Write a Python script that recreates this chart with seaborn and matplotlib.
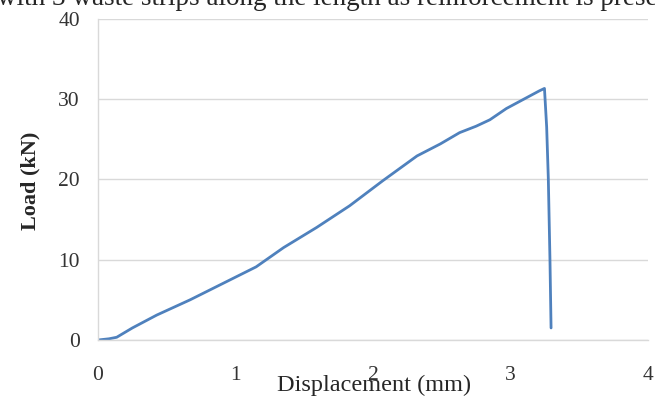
import seaborn as sns
import pandas as pd
import matplotlib.pyplot as plt

# load-displacement curve
disp = [0.0, 0.08, 0.136, 0.25, 0.427, 0.67, 0.91, 1.15, 1.35, 1.59, 1.83,
        2.07, 2.32, 2.49, 2.63, 2.75, 2.85, 2.97, 3.09, 3.21, 3.247,
        3.263, 3.275, 3.287, 3.295]
load = [0.0, 0.15, 0.34, 1.5, 3.1, 5.0, 7.05, 9.1, 11.5, 14.0, 16.7,
        19.8, 22.9, 24.4, 25.8, 26.6, 27.4, 28.8, 29.9, 31.0, 31.3,
        26.5, 20.1, 10.0, 1.5]
x_ticks = [0, 1, 2, 3, 4]
y_ticks = [0, 10, 20, 30, 40]

df = pd.DataFrame({"Displacement (mm)": disp, "Load (kN)": load})

sns.set_style("white")
plt.rcParams['font.family'] = ['Liberation Serif', 'DejaVu Serif']

fig = plt.figure(figsize=(6.55, 3.99), dpi=100)
ax = fig.add_axes([98 / 655, 59 / 399, 550 / 655, 321.5 / 399])

sns.lineplot(data=df, x="Displacement (mm)", y="Load (kN)", sort=False,
             estimator=None, color="#4F81BD", linewidth=2, ax=ax)

ax.set_xlim(0, 4)
ax.set_ylim(0, 40)
ax.set_xticks(x_ticks)
ax.set_yticks(y_ticks)
ax.grid(axis="y", color="#D9D9D9", linewidth=1)
ax.set_axisbelow(True)
for s in ["top", "right"]:
    ax.spines[s].set_visible(False)
for s in ["left", "bottom"]:
    ax.spines[s].set_color("#D9D9D9")
    ax.spines[s].set_linewidth(1)
ax.tick_params(axis="both", length=0, labelsize=15.5, labelcolor="#333333")
ax.tick_params(axis="x", pad=19)
ax.tick_params(axis="y", pad=13)

ax.set_xlabel("")
ax.set_ylabel("")
fig.text(30 / 655, 0.5 * (1 - 132 / 399) + 0.5 * (1 - 230 / 399), "Load (kN)",
         fontsize=16, fontweight="bold", rotation=90, ha="center", va="center")
fig.text(374 / 655, 1 - 391 / 399, "Displacement (mm)", fontsize=17.5,
         ha="center", va="baseline")

# caption text from the page, cut off at the top edge
fig.text(-3 / 655, 1 - 5 / 399, "with 3 waste strips along the length as reinforcement is prese",
         fontsize=19.5, ha="left", va="baseline")

fig.savefig("out.png", dpi=100)
